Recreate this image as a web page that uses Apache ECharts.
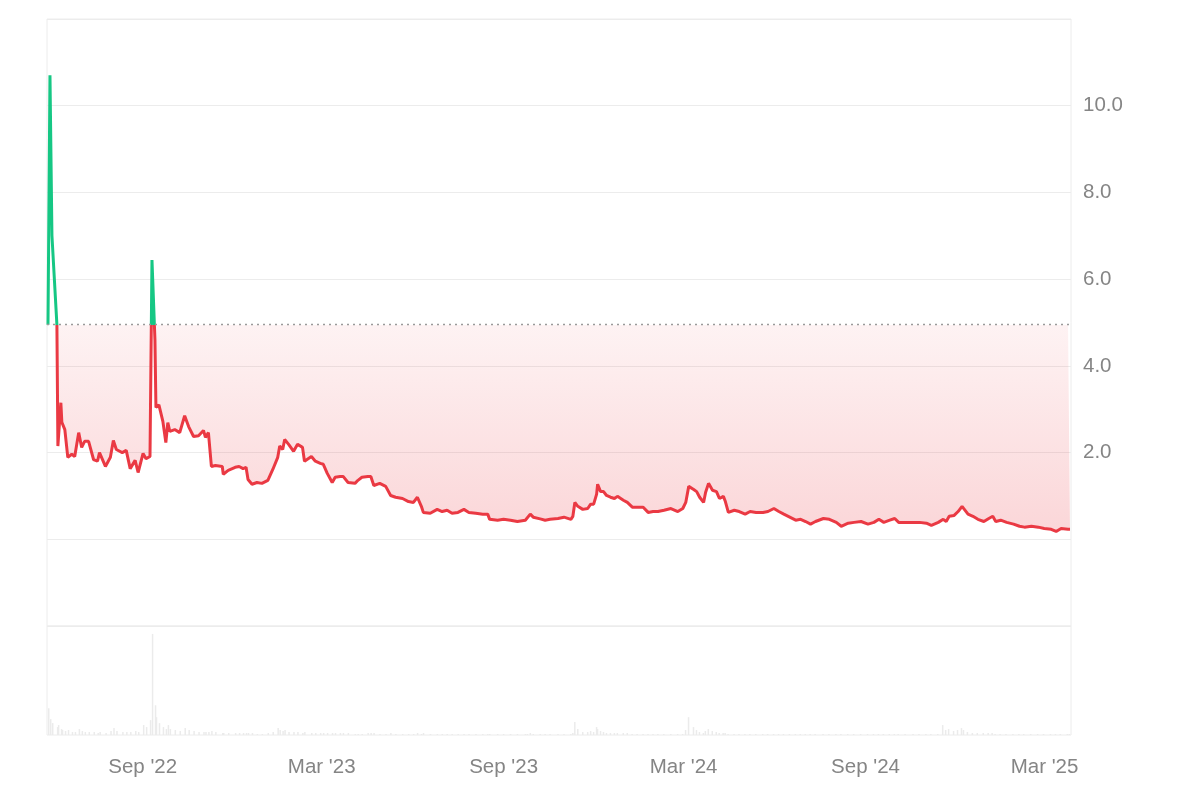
<!DOCTYPE html>
<html>
<head>
<meta charset="utf-8">
<script src="https://cdn.jsdelivr.net/npm/echarts@6/dist/echarts.min.js"></script>
<style>
html,body{margin:0;padding:0;background:#fff;}
#chart{width:1200px;height:800px;}
</style>
</head>
<body>
<div id="chart"></div>
<script>
// Day offsets counted from the first listing day
const startDate = '2022-05-28';
const endDay = 1034;
const baselinePrice = 4.95;

const days = [1,3,5,10,11,14,15,18,21,25,28,32,35,38,42,47,51,53,59,64,67,70,76,80,84,89,92,97,100,104,
106,109,110,113,117,120,122,124,129,134,139,143,148,153,158,160,163,166,170,177,178,183,190,194,198,201,203,207,212,217,
223,228,233,235,238,240,244,249,253,258,260,267,271,276,279,283,288,291,296,299,304,311,314,318,324,327,330,336,342,347,
352,359,365,370,374,378,380,387,394,399,404,409,415,421,426,433,440,445,447,455,461,468,475,483,485,488,491,498,503,508,
516,522,529,531,533,536,541,546,549,552,555,556,559,562,565,569,573,576,582,586,591,596,602,607,612,617,623,630,637,642,
645,648,653,656,659,663,665,668,672,676,679,683,685,688,694,699,705,710,716,723,728,734,739,744,750,756,761,766,771,776,
784,790,797,802,809,815,822,829,835,840,845,851,856,860,867,875,881,888,893,900,905,908,911,916,920,924,926,930,935,940,
946,951,955,958,963,969,976,982,987,994,1001,1007,1014,1019,1024,1031,1033];

const prices = [4.95,10.7,7.0,4.95,2.15,3.15,2.7,2.53,1.89,1.96,1.91,2.46,2.12,2.26,2.26,1.84,1.8,2.0,1.68,1.89,2.28,2.07,2.0,2.05,1.63,1.82,1.54,1.98,1.86,1.91,
6.44,4.6,3.04,3.1,2.72,2.23,2.69,2.49,2.53,2.46,2.85,2.6,2.37,2.39,2.51,2.35,2.46,1.68,1.7,1.68,1.5,1.59,1.66,1.68,1.63,1.66,1.38,1.27,1.31,1.29,
1.36,1.61,1.89,2.15,2.07,2.3,2.19,2.03,2.19,2.12,1.8,1.91,1.8,1.75,1.73,1.52,1.31,1.43,1.45,1.45,1.31,1.29,1.36,1.43,1.45,1.45,1.24,1.29,1.22,1.01,
0.97,0.94,0.87,0.85,0.97,0.76,0.62,0.6,0.69,0.64,0.67,0.6,0.62,0.69,0.62,0.6,0.58,0.58,0.46,0.44,0.46,0.44,0.41,0.44,0.48,0.58,0.51,0.47,0.44,0.46,
0.48,0.51,0.46,0.53,0.85,0.76,0.69,0.71,0.81,0.81,1.04,1.27,1.1,1.1,1.01,0.97,0.94,0.99,0.9,0.85,0.74,0.74,0.74,0.62,0.64,0.64,0.67,0.71,0.64,0.71,
0.85,1.22,1.15,1.1,0.97,0.85,1.08,1.29,1.13,1.1,0.94,0.99,0.87,0.62,0.67,0.64,0.58,0.64,0.62,0.62,0.64,0.71,0.64,0.58,0.51,0.44,0.46,0.41,0.35,0.41,
0.48,0.46,0.39,0.3,0.37,0.39,0.41,0.35,0.39,0.46,0.39,0.44,0.48,0.39,0.39,0.39,0.39,0.37,0.32,0.39,0.46,0.41,0.53,0.55,0.64,0.76,0.74,0.58,0.53,0.46,
0.41,0.48,0.53,0.41,0.44,0.39,0.35,0.3,0.28,0.3,0.28,0.25,0.23,0.18,0.25,0.23,0.23];

// Relative trading volume at the same days
const volumes = [27,16,12,8,10,6,5,4,5,3,3,6,4,3,3,3,2,3,2,4,7,4,3,3,3,4,3,10,8,15,
102,30,18,12,8,6,10,6,5,4,7,5,4,3,3,3,3,4,3,2,2,2,2,2,2,2,2,2,1,1,
2,3,7,5,4,5,3,3,3,2,3,2,2,2,2,2,2,2,2,2,2,1,1,1,2,2,2,1,1,2,
1,1,1,1,2,1,2,1,1,1,1,1,1,1,1,1,1,1,1,1,1,1,1,1,1,2,1,1,1,1,
1,1,1,2,13,6,3,3,4,3,8,6,4,3,2,2,2,2,2,2,1,1,1,1,1,1,1,1,1,1,
5,18,8,5,3,2,4,6,4,3,2,2,2,1,1,1,1,1,1,1,1,1,1,1,1,1,1,1,1,1,
1,1,1,1,1,1,1,1,1,1,1,1,1,1,1,1,1,1,1,1,10,5,6,4,5,7,5,3,2,2,
2,2,2,1,1,1,1,1,1,1,1,1,1,1,1,1,1];

const xTickMonths = [2, 8]; // Mar, Sep labels
const monthNames = ['Jan','Feb','Mar','Apr','May','Jun','Jul','Aug','Sep','Oct','Nov','Dec'];

const DAY = 86400000;
const t0 = Date.parse(startDate + 'T00:00:00Z');
const times = days.map(d => t0 + d * DAY);
const priceData = times.map((t, i) => [t, prices[i]]);
const gapData = times.map((t, i) => [t, +(baselinePrice - prices[i]).toFixed(4)]);
const volData = times.map((t, i) => [t, volumes[i]]);

const UP = '#16c784', DOWN = '#ea3943';
const chart = echarts.init(document.getElementById('chart'), null, {renderer: 'canvas'});
const font = 'Liberation Sans, Arial, sans-serif';
const gridLine = '#ececec';

const option = {
  animation: false,
  backgroundColor: '#ffffff',
  grid: [
    {left: 47, right: 129, top: 19, height: 607, show: true, borderColor: gridLine, borderWidth: 1},
    {left: 47, right: 129, top: 626, height: 109, show: true, borderColor: gridLine, borderWidth: 1}
  ],
  xAxis: [
    {type: 'time', gridIndex: 0, min: t0, max: t0 + endDay * DAY,
     axisLine: {show: false}, axisTick: {show: false}, axisLabel: {show: false}, splitLine: {show: false}},
    {type: 'time', gridIndex: 1, min: t0, max: t0 + endDay * DAY, splitNumber: 34,
     axisLine: {show: false}, axisTick: {show: false}, splitLine: {show: false},
     axisLabel: {
       color: '#858585', fontSize: 20.5, fontFamily: font, margin: 22, hideOverlap: false,
       formatter: function (v) {
         const d = new Date(v);
         const m = d.getUTCMonth();
         if (d.getUTCDate() !== 1 || xTickMonths.indexOf(m) < 0) return '';
         return monthNames[m] + " '" + String(d.getUTCFullYear()).slice(2);
       }
     }}
  ],
  yAxis: [
    {type: 'value', gridIndex: 0, position: 'right', min: -2, max: 12, interval: 2,
     axisLine: {show: false}, axisTick: {show: false},
     splitLine: {show: true, lineStyle: {color: gridLine, width: 1}},
     axisLabel: {color: '#858585', fontSize: 20.5, fontFamily: font, margin: 12,
       formatter: v => (v >= 2 && v <= 10) ? v.toFixed(1) : ''}},
    {type: 'value', gridIndex: 1, min: 0, max: 110, show: false}
  ],
  series: [
    {
      // invisible base: fill is stacked on the price
      type: 'line', xAxisIndex: 0, yAxisIndex: 0, data: priceData, stack: 'fill', stackStrategy: 'all',
      symbol: 'none', showSymbol: false, lineStyle: {opacity: 0}, silent: true, z: 1
    },
    {
      // fill between price and baseline
      type: 'line', xAxisIndex: 0, yAxisIndex: 0, data: gapData, stack: 'fill', stackStrategy: 'all',
      symbol: 'none', showSymbol: false, lineStyle: {opacity: 0}, silent: true, z: 1,
      areaStyle: {color: 'rgba(234,57,67,0.15)'}
    },
    {
      type: 'line', xAxisIndex: 0, yAxisIndex: 0, data: priceData,
      symbol: 'none', showSymbol: false, smooth: false,
      lineStyle: {width: 3, color: DOWN},
      markLine: {
        silent: true, symbol: 'none', label: {show: false},
        lineStyle: {type: [2, 4], color: '#9a9a9a', width: 1.3},
        data: [{yAxis: baselinePrice}]
      },
      z: 3
    },
    {
      type: 'bar', xAxisIndex: 1, yAxisIndex: 1, data: volData,
      barWidth: 1.5, itemStyle: {color: '#ebebeb'}, silent: true
    }
  ]
};
chart.setOption(option);

// colour split at the baseline, using the axis scale for the pixel position
const yBase = chart.convertToPixel({yAxisIndex: 0}, baselinePrice);
const yZero = chart.convertToPixel({yAxisIndex: 0}, 0);
chart.setOption({
  series: [
    {},
    {areaStyle: {color: new echarts.graphic.LinearGradient(0, yBase - 0.5, 0, yZero, [
      {offset: 0, color: 'rgba(234,57,67,0)'},
      {offset: 0.004, color: 'rgba(234,57,67,0.09)'},
      {offset: 1, color: 'rgba(234,57,67,0.30)'}
    ], true)}},
    {lineStyle: {color: new echarts.graphic.LinearGradient(0, yBase - 1, 0, yBase + 1, [
      {offset: 0, color: UP}, {offset: 0.5, color: UP},
      {offset: 0.5, color: DOWN}, {offset: 1, color: DOWN}
    ], true)}},
    {}
  ]
});
</script>
</body>
</html>
